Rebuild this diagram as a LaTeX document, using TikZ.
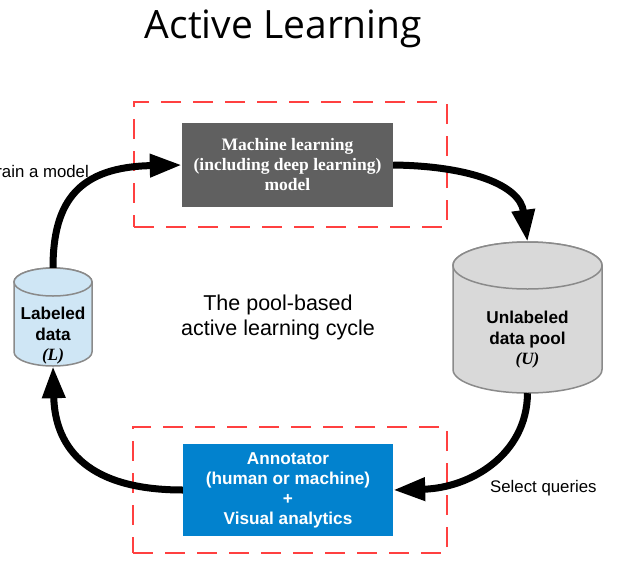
\documentclass[tikz,border=0pt]{standalone}
\usepackage{fontspec}
\setmainfont{Liberation Serif}
\setsansfont{Liberation Sans}
\newfontfamily\titlefont{Open Sans}
\usetikzlibrary{arrows.meta}
\definecolor{mlgray}{RGB}{96,96,96}
\definecolor{annblue}{RGB}{2,130,206}
\definecolor{labblue}{RGB}{207,230,245}
\definecolor{unlgray}{RGB}{217,217,217}
\definecolor{cylstroke}{RGB}{138,138,138}
\definecolor{dashred}{RGB}{255,64,64}
\tikzset{
  reddash/.style={draw=dashred, line width=2pt, dash pattern=on 20pt off 12pt, inner sep=0pt},
  mlbox/.style={fill=mlgray, text=white, font=\rmfamily\bfseries\fontsize{17.5}{20}\selectfont, align=center, inner sep=0pt},
  annbox/.style={fill=annblue, text=white, font=\sffamily\bfseries\fontsize{17.2}{20}\selectfont, align=center, inner sep=0pt},
  cylnode/.style={inner sep=0pt},
  cyltext/.style={font=\sffamily\bfseries\fontsize{17.2}{20.5}\selectfont, align=center, inner sep=0pt},
  cyl/.style={draw=cylstroke, line width=1.5pt},
  arr/.style={line width=7pt, -{Triangle[length=32pt,width=22pt]}},
  plain/.style={font=\sffamily\fontsize{16.8}{20}\selectfont, inner sep=0pt}
}
\begin{document}
\begin{tikzpicture}[x=1pt,y=1pt]
\useasboundingbox (0,0) rectangle (630,-579);
% title
\node[font=\titlefont\fontsize{39}{44}\selectfont, anchor=base, inner sep=0pt] (title) at (283.5,-38) {Active Learning};
% dashed frames
\node[reddash, minimum width=313pt, minimum height=125pt] (topbox) at (290.5,-164.5) {};
\node[reddash, minimum width=314pt, minimum height=126pt] (botbox) at (290,-490) {};
% main boxes
\node[mlbox, minimum width=211pt, minimum height=84pt] (ml) at (287.5,-165) {Machine learning\\(including deep learning)\\model};
\node[annbox, minimum width=210pt, minimum height=92pt] (ann) at (288,-490) {Annotator\\(human or machine)\\+\\Visual analytics};
% labeled cylinder
\node[cylnode, minimum width=78pt, minimum height=98pt] (lab) at (53,-317) {};
\path[cyl, fill=labblue] (14,-282) -- (14,-352) arc[start angle=180, end angle=360, x radius=39pt, y radius=14pt] -- (92,-282) arc[start angle=0, end angle=180, x radius=39pt, y radius=14pt] -- cycle;
\path[cyl, fill=labblue] (53,-282) ellipse[x radius=39pt, y radius=14pt];
\node[cyltext] (labtxt) at (53,-336) {Labeled\\data\\{\rmfamily\bfseries\itshape (L)}};
% unlabeled cylinder
\node[cylnode, minimum width=149pt, minimum height=151pt] (unl) at (527.5,-317.5) {};
\path[cyl, fill=unlgray] (453,-265.5) -- (453,-369.5) arc[start angle=180, end angle=360, x radius=74.5pt, y radius=23.5pt] -- (602,-265.5) arc[start angle=0, end angle=180, x radius=74.5pt, y radius=23.5pt] -- cycle;
\path[cyl, fill=unlgray] (527.5,-265.5) ellipse[x radius=74.5pt, y radius=23.5pt];
\node[cyltext] (unltxt) at (527.5,-340) {Unlabeled\\data pool\\{\rmfamily\bfseries\itshape (U)}};
% center text
\node[font=\sffamily\fontsize{21.5}{25}\selectfont, align=center, inner sep=0pt] (cycle) at (278,-317) {The pool-based\\active learning cycle};
% labels
\node[plain, anchor=base east] (train) at (89,-177) {Train a model};
\node[plain, anchor=base west] (select) at (490,-492) {Select queries};
% arrows
\draw[arr] (lab.north) .. controls (53,-200) and (80,-167) .. (ml.west);
\draw[arr] (ml.east) .. controls (470,-166) and (520,-185) .. (unl.north);
\draw[arr] (unl.south) .. controls (527,-455) and (470,-488) .. (ann.east);
\draw[arr] (ann.west) .. controls (90,-490) and (55,-450) .. (lab.south);
\end{tikzpicture}
\end{document}
